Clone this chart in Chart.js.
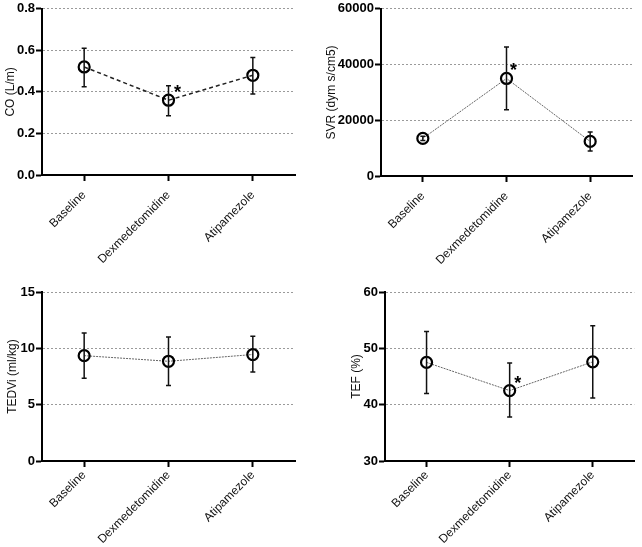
<!DOCTYPE html>
<html>
<head>
<meta charset="utf-8">
<script src="https://cdn.jsdelivr.net/npm/chart.js@4/dist/chart.umd.min.js"></script>
<style>
  body { margin: 0; background: #fff; }
  .panel { position: absolute; }
</style>
</head>
<body>
<div class="panel" style="left:0;top:0;width:321px;height:273px"><canvas id="coChart"></canvas></div>
<div class="panel" style="left:321px;top:0;width:321px;height:273px"><canvas id="svrChart"></canvas></div>
<div class="panel" style="left:0;top:273px;width:321px;height:274px"><canvas id="tedviChart"></canvas></div>
<div class="panel" style="left:321px;top:273px;width:321px;height:274px"><canvas id="tefChart"></canvas></div>
<script>
// data
const groups = ["Baseline", "Dexmedetomidine", "Atipamezole"];

const coMean = [0.52, 0.36, 0.48];
const coLow = [0.425, 0.285, 0.39];
const coHigh = [0.61, 0.43, 0.565];
const coStar = [false, true, false];

const svrMean = [13500, 35000, 12400];
const svrLow = [12700, 23800, 9000];
const svrHigh = [14300, 46300, 15800];
const svrStar = [false, true, false];

const tedviMean = [9.35, 8.85, 9.45];
const tedviLow = [7.35, 6.7, 7.9];
const tedviHigh = [11.35, 11.0, 11.08];
const tedviStar = [false, false, false];

const tefMean = [47.5, 42.5, 47.6];
const tefLow = [42.0, 37.8, 41.2];
const tefHigh = [53.0, 47.4, 54.0];
const tefStar = [false, true, false];

const FONT = "'Liberation Sans', Arial, sans-serif";

// error bars + significance stars
const errorBars = {
  id: "errorBars",
  afterDatasetsDraw(chart, args, opts) {
    const ctx = chart.ctx;
    const meta = chart.getDatasetMeta(0);
    const y = chart.scales.y;
    ctx.save();
    ctx.strokeStyle = "#111";
    ctx.lineWidth = 1.5;
    meta.data.forEach((pt, i) => {
      const yl = y.getPixelForValue(opts.low[i]);
      const yh = y.getPixelForValue(opts.high[i]);
      ctx.beginPath();
      ctx.moveTo(pt.x, yl);
      ctx.lineTo(pt.x, yh);
      ctx.moveTo(pt.x - 2.5, yl);
      ctx.lineTo(pt.x + 2.5, yl);
      ctx.moveTo(pt.x - 2.5, yh);
      ctx.lineTo(pt.x + 2.5, yh);
      ctx.stroke();
      if (opts.star[i]) {
        ctx.fillStyle = "#000";
        ctx.font = "bold 18px " + FONT;
        ctx.textAlign = "center";
        ctx.textBaseline = "middle";
        ctx.fillText("*", pt.x + opts.starDx, pt.y - 7);
      }
    });
    ctx.restore();
  }
};

function makePanel(id, cfg) {
  new Chart(document.getElementById(id), {
    type: "line",
    data: {
      labels: groups,
      datasets: [{
        data: cfg.mean,
        borderColor: cfg.lineColor,
        borderWidth: cfg.lineWidth,
        borderDash: cfg.dash,
        pointRadius: 5.5,
        pointBorderWidth: 2.2,
        pointBorderColor: "#000",
        pointBackgroundColor: "rgba(0,0,0,0)",
        fill: false,
        tension: 0
      }]
    },
    options: {
      responsive: true,
      maintainAspectRatio: false,
      animation: false,
      layout: { padding: { top: cfg.top, right: cfg.right, left: 0, bottom: 0 } },
      plugins: {
        legend: { display: false },
        tooltip: { enabled: false },
        errorBars: { low: cfg.low, high: cfg.high, star: cfg.star, starDx: cfg.starDx }
      },
      scales: {
        x: {
          type: "category",
          offset: true,
          afterFit: (s) => { s.height = cfg.xHeight; },
          grid: { drawOnChartArea: false, drawTicks: true, tickLength: 6, tickColor: "#000", tickWidth: 2 },
          border: { color: "#000", width: 2 },
          ticks: {
            minRotation: 45, maxRotation: 45, padding: cfg.xPad,
            color: "#111", font: { family: FONT, size: 12 }
          }
        },
        y: {
          min: cfg.min, max: cfg.max,
          afterFit: (s) => { s.width = cfg.yWidth; },
          ticks: {
            stepSize: cfg.step, padding: 1,
            color: "#000", font: { family: FONT, size: 13, weight: "bold" },
            callback: (v) => (cfg.step < 1 ? v.toFixed(1) : String(v))
          },
          grid: { color: "#9a9a9a", lineWidth: 1, drawTicks: true, tickLength: 6, tickColor: "#000", tickWidth: 2 },
          border: { color: "#000", width: 2, dash: [2, 2] },
          title: {
            display: true, text: cfg.title, color: "#111",
            font: { family: FONT, size: 12 },
            padding: { top: cfg.titlePad, bottom: 0 }
          }
        }
      }
    },
    plugins: [errorBars]
  });
}

makePanel("coChart", {
  mean: coMean, low: coLow, high: coHigh, star: coStar, starDx: 9,
  min: 0, max: 0.8, step: 0.2, title: "CO (L/m)", titlePad: 3,
  lineColor: "#222", lineWidth: 1.5, dash: [4, 3],
  top: 7, right: 26, yWidth: 42, xHeight: 98, xPad: 7
});
makePanel("svrChart", {
  mean: svrMean, low: svrLow, high: svrHigh, star: svrStar, starDx: 7,
  min: 0, max: 60000, step: 20000, title: "SVR (dym s/cm5)", titlePad: 3,
  lineColor: "#666", lineWidth: 1, dash: [2, 1],
  top: 7, right: 10, yWidth: 60, xHeight: 97, xPad: 7
});
makePanel("tedviChart", {
  mean: tedviMean, low: tedviLow, high: tedviHigh, star: tedviStar, starDx: 8,
  min: 0, max: 15, step: 5, title: "TEDVi (ml/kg)", titlePad: 5,
  lineColor: "#666", lineWidth: 1, dash: [2, 1],
  top: 19, right: 26, yWidth: 42, xHeight: 86, xPad: 1
});
makePanel("tefChart", {
  mean: tefMean, low: tefLow, high: tefHigh, star: tefStar, starDx: 8,
  min: 30, max: 60, step: 10, title: "TEF (%)", titlePad: 28,
  lineColor: "#666", lineWidth: 1, dash: [2, 1],
  top: 19, right: 3, yWidth: 64, xHeight: 86, xPad: 1
});
</script>
</body>
</html>
